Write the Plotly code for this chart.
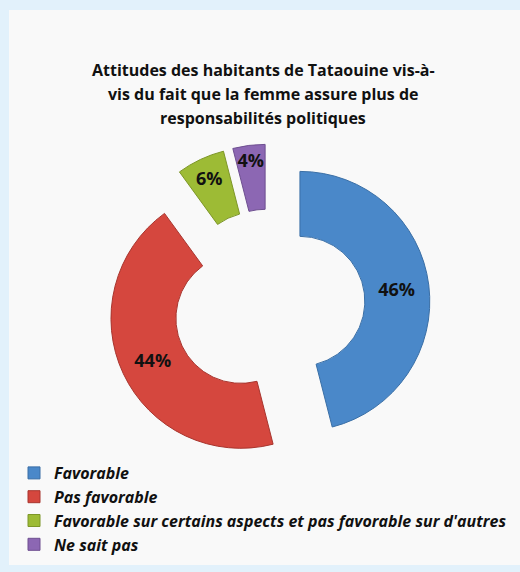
import plotly.graph_objects as go

# Survey answers and their shares (%)
categories = [
    "Favorable",
    "Pas favorable",
    "Favorable sur certains aspects et pas favorable sur d'autres",
    "Ne sait pas",
]
shares = [46, 44, 6, 4]
slice_colors = ["#4a88c9", "#d5473e", "#9dbb35", "#8c67b3"]
edge_colors = ["#3a6fa6", "#a8352e", "#7d9628", "#6e4f90"]
title_lines = [
    "Attitudes des habitants de Tataouine vis-à-",
    "vis du fait que la femme assure plus de",
    "responsabilités politiques",
]

W, H = 520, 572

fig = go.Figure(
    go.Pie(
        labels=categories,
        values=shares,
        hole=0.5,
        pull=[0.24] * len(shares),
        sort=False,
        direction="clockwise",
        rotation=0,
        marker=dict(colors=slice_colors, line=dict(color=edge_colors, width=1)),
        texttemplate="%{value}%",
        textposition="inside",
        insidetextorientation="horizontal",
        textfont=dict(family="Open Sans", size=18, color="#111111", weight="bold"),
        domain=dict(x=[0.2077, 0.827], y=[0.185, 0.748]),
        showlegend=True,
        hoverinfo="label+percent",
    )
)

# Title: one annotation per line for a looser line spacing
title_annotations = [
    dict(
        text=line,
        xref="paper", yref="paper", x=263 / W, y=1 - (70 + 24 * i) / H,
        xanchor="center", yanchor="middle", showarrow=False,
        font=dict(family="Open Sans", size=16, color="#111111", weight="bold"),
    )
    for i, line in enumerate(title_lines)
]

fig.update_layout(
    width=W,
    height=H,
    margin=dict(l=0, r=0, t=0, b=0),
    paper_bgcolor="#e2f1fb",
    plot_bgcolor="#e2f1fb",
    uniformtext=dict(minsize=18, mode="show"),
    shapes=[
        dict(
            type="rect", xref="paper", yref="paper",
            x0=9 / W, x1=1.0, y0=7 / H, y1=1 - 10 / H,
            fillcolor="#f9f9f9", line=dict(width=0), layer="below",
        )
    ],
    annotations=title_annotations,
    legend=dict(
        x=14 / W, y=1 - 456 / H, xanchor="left", yanchor="top",
        font=dict(family="Open Sans", size=16, color="#111111",
                  weight="bold", style="italic"),
        bgcolor="rgba(0,0,0,0)",
        itemwidth=30,
        traceorder="normal",
    ),
)

fig.write_html("out.html")
